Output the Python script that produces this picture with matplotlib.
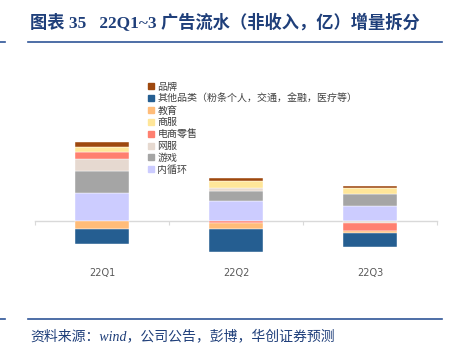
import matplotlib
matplotlib.use("Agg")
import matplotlib.pyplot as plt
from matplotlib.patches import Rectangle
from matplotlib.lines import Line2D
import numpy as np

categories = ["22Q1", "22Q2", "22Q3"]
# stacking order (bottom -> top)
series_names = ["内循环", "游戏", "网服", "电商零售", "商服", "教育",
                "其他品类（粉条个人，交通，金融，医疗等）", "品牌"]
neixunhuan = [28.4, 20.3, 15.0]
youxi = [21.6, 9.5, 11.7]
wangfu = [12.4, 3.5, -2.0]
dianshang = [6.6, -1.7, -7.7]
shangfu = [5.4, 6.7, 6.3]
jiaoyu = [-7.5, -6.7, -2.0]
qita = [-15.3, -23.0, -14.3]
pinpai = [4.6, 3.0, 1.7]
series_values = [neixunhuan, youxi, wangfu, dianshang, shangfu, jiaoyu, qita, pinpai]
colors = ["#CCCCFF", "#A5A5A5", "#E6D9D0", "#FF8070", "#FFE699", "#FFBC79",
          "#255E91", "#9E480E"]

W, H = 453, 355
fig = plt.figure(figsize=(W / 100, H / 100), dpi=100)
fig.patch.set_facecolor("white")

def fx(px):
    return px / W

def fy(py):
    return 1 - py / H

ax_l, ax_r, ax_t, ax_b = 35, 437, 75, 260
zero_px = 221
ax = fig.add_axes([fx(ax_l), fy(ax_b), fx(ax_r - ax_l), (ax_b - ax_t) / H])
ax.set_ylim(-(ax_b - zero_px), zero_px - ax_t)
ax.set_xlim(-0.5, 2.5)

x = np.arange(len(categories))
pos_base = np.zeros(len(categories))
neg_base = np.zeros(len(categories))
for name, vals, c in zip(series_names, series_values, colors):
    vals = np.array(vals, dtype=float)
    bottoms = np.where(vals >= 0, pos_base, neg_base)
    ax.bar(x, vals, width=0.4, bottom=bottoms, color=c, edgecolor="white",
           linewidth=0.3, label=name, zorder=3)
    pos_base = pos_base + np.where(vals >= 0, vals, 0)
    neg_base = neg_base + np.where(vals < 0, vals, 0)

for s in ["top", "right", "left"]:
    ax.spines[s].set_visible(False)
ax.spines["bottom"].set_position(("data", 0))
ax.spines["bottom"].set_color("#D9D9D9")
ax.spines["bottom"].set_linewidth(1.0)
ax.spines["bottom"].set_zorder(2)
ax.set_yticks([])
ax.set_xticks(x)
ax.set_xticklabels(categories)
ax.tick_params(axis="x", which="major", length=0, pad=34, labelsize=7,
               labelcolor="#595959")
ax.set_xticks([-0.5, 0.5, 1.5, 2.5], minor=True)
ax.tick_params(axis="x", which="minor", length=3, color="#D9D9D9", width=0.8)
ax.patch.set_alpha(0)

plt.rcParams["font.family"] = ["Noto Sans CJK SC", "DejaVu Sans"]
leg_names = series_names[::-1]
leg_colors = colors[::-1]
leg_handles = [Rectangle((0, 0), 1, 1, color=c) for c in leg_colors]
leg = fig.legend(leg_handles, leg_names, loc="upper left",
                 bbox_to_anchor=(fx(148), fy(82)), frameon=False,
                 prop={"family": ["Noto Sans CJK SC", "DejaVu Sans"], "size": 7.2},
                 handlelength=0.55, handleheight=0.55, handletextpad=0.4,
                 labelspacing=0.18, borderpad=0, borderaxespad=0,
                 labelcolor="#404040")

title_color = "#1F3F7A"
fig.text(fx(30), fy(23), "图表 35   22Q1~3 广告流水（非收入，亿）增量拆分",
         family=["Liberation Serif", "Noto Sans CJK SC"], fontweight="bold",
         fontsize=12.4, color=title_color, va="center", ha="left")
line_color = "#2F5597"
for yy in (41.5, 319.3):
    fig.add_artist(Line2D([fx(28), fx(442)], [fy(yy), fy(yy)], color=line_color,
                          linewidth=1.2))
    fig.add_artist(Line2D([fx(0), fx(5)], [fy(yy), fy(yy)], color=line_color,
                          linewidth=1.2))
fig.text(fx(30), fy(336), "资料来源：wind，公司公告，彭博，华创证券预测",
         family=["Liberation Serif", "Noto Sans CJK SC"], style="italic",
         fontsize=10, color=title_color, va="center", ha="left")

fig.savefig("out.png", dpi=100, facecolor="white")
